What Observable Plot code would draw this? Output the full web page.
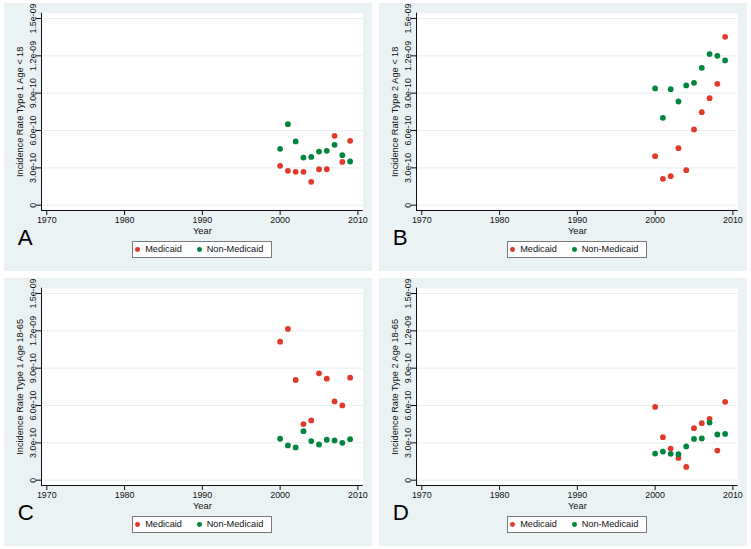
<!DOCTYPE html>
<html>
<head>
<meta charset="utf-8">
<script src="https://cdn.jsdelivr.net/npm/d3@7"></script>
<script src="https://cdn.jsdelivr.net/npm/@observablehq/plot@0.6"></script>
<style>
  html, body { margin: 0; padding: 0; background: #ffffff; }
  #root { position: relative; width: 751px; height: 549px; background: #ffffff; overflow: hidden; }
  .panel { position: absolute; width: 368px; height: 268px; background: #eaf2f3; }
  .panel svg { position: absolute; left: 0; top: 0; }
  .legend { position: absolute; left: 127.7px; top: 237.7px; width: 140px; height: 17px; box-sizing: border-box;
            background: #fff; border: 1px solid #7a7a7a; font-family: "Liberation Sans", Arial, Helvetica, sans-serif;
            font-size: 9.2px; color: #111; }
  .legend .dot { position: absolute; top: 5.4px; width: 4.8px; height: 4.8px; border-radius: 50%; }
  .legend .lbl { position: absolute; top: 2.5px; line-height: 10px; white-space: nowrap; }
</style>
</head>
<body>
<div id="root"></div>
<script>
const years = [2000, 2001, 2002, 2003, 2004, 2005, 2006, 2007, 2008, 2009];
const medicaidA    = [3.16e-10, 2.76e-10, 2.68e-10, 2.68e-10, 1.88e-10, 2.89e-10, 2.89e-10, 5.57e-10, 3.48e-10, 5.17e-10];
const nonMedicaidA = [4.53e-10, 6.51e-10, 5.12e-10, 3.83e-10, 3.88e-10, 4.31e-10, 4.37e-10, 4.85e-10, 4.02e-10, 3.51e-10];
const medicaidB    = [3.94e-10, 2.12e-10, 2.33e-10, 4.58e-10, 2.81e-10, 6.08e-10, 7.47e-10, 8.60e-10, 9.75e-10, 13.53e-10];
const nonMedicaidB = [9.38e-10, 7.02e-10, 9.32e-10, 8.33e-10, 9.62e-10, 9.83e-10, 11.04e-10, 12.14e-10, 12.00e-10, 11.63e-10];
const medicaidC    = [11.13e-10, 12.15e-10, 8.05e-10, 4.51e-10, 4.80e-10, 8.59e-10, 8.16e-10, 6.33e-10, 6.01e-10, 8.24e-10];
const nonMedicaidC = [3.33e-10, 2.79e-10, 2.63e-10, 3.94e-10, 3.14e-10, 2.87e-10, 3.25e-10, 3.19e-10, 3.00e-10, 3.30e-10];
const medicaidD    = [5.89e-10, 3.46e-10, 2.54e-10, 1.79e-10, 1.07e-10, 4.18e-10, 4.58e-10, 4.93e-10, 2.38e-10, 6.30e-10];
const nonMedicaidD = [2.14e-10, 2.30e-10, 2.12e-10, 2.09e-10, 2.71e-10, 3.32e-10, 3.35e-10, 4.63e-10, 3.67e-10, 3.72e-10];

const panelLetters = ["A", "B", "C", "D"];
const yTitles = ["Incidence Rate Type 1 Age < 18", "Incidence Rate Type 2 Age < 18",
                 "Incidence Rate Type 1 Age 18-65", "Incidence Rate Type 2 Age 18-65"];
const xTicks = [1970, 1980, 1990, 2000, 2010];
const yTicks = [0, 3e-10, 6e-10, 9e-10, 1.2e-9, 1.5e-9];
const yTickLabels = ["0", "3.0e-10", "6.0e-10", "9.0e-10", "1.2e-09", "1.5e-09"];
const xTitle = "Year";
const seriesNames = ["Medicaid", "Non-Medicaid"];
const seriesColors = ["#e2392d", "#00853f"];

const panelSeries = [
  [medicaidA, nonMedicaidA],
  [medicaidB, nonMedicaidB],
  [medicaidC, nonMedicaidC],
  [medicaidD, nonMedicaidD]
];
const panelPos = [[4, 3], [379, 3], [4, 278], [379, 278]];

const root = document.getElementById("root");
const font = "'Liberation Sans', Arial, Helvetica, sans-serif";
const ink = "#111111";

panelSeries.forEach((series, p) => {
  const div = document.createElement("div");
  div.className = "panel";
  div.style.left = panelPos[p][0] + "px";
  div.style.top = panelPos[p][1] + "px";
  root.appendChild(div);

  const rows = (k) => years.map((yr, i) => ({year: yr, value: series[k][i]}));
  const labelOf = (d) => yTickLabels[yTicks.indexOf(d)];

  const chart = Plot.plot({
    width: 368,
    height: 268,
    marginLeft: 37,
    marginRight: 9.3,
    marginTop: 9.7,
    marginBottom: 61,
    style: {background: "transparent", fontFamily: font, fontSize: "8.9px", color: ink, overflow: "visible"},
    x: {domain: [1970, 2010], inset: 5.3},
    y: {domain: [0, 1.5e-9], inset: 5.3},
    marks: [
      Plot.frame({fill: "#ffffff", stroke: null}),
      Plot.gridY(yTicks, {stroke: "#e6eef0", strokeOpacity: 1, strokeWidth: 1}),
      Plot.ruleY([0], {dy: 5.3, stroke: ink, strokeWidth: 1}),
      Plot.ruleX([1970], {dx: -5.3, stroke: ink, strokeWidth: 1}),
      Plot.axisX({ticks: xTicks, tickSize: 5, tickPadding: 1.5, tickFormat: (d) => String(d), label: null, stroke: ink, fill: ink}),
      Plot.axisY({ticks: yTicks, tickSize: 5, tickPadding: 1, tickRotate: -90, tickFormat: labelOf, label: null, stroke: ink, fill: ink}),
      Plot.text([xTitle], {frameAnchor: "bottom", dy: 20.5, fontSize: 9.3, fill: ink, lineAnchor: "middle"}),
      Plot.text([yTitles[p]], {frameAnchor: "left", dx: -21.7, rotate: -90, fontSize: 9.2, fill: ink, lineAnchor: "middle", textAnchor: "middle"}),
      Plot.text([panelLetters[p]], {frameAnchor: "bottom-left", dx: -23.7, dy: 34.3, fontSize: 22.3, fill: "#000", textAnchor: "start", lineAnchor: "bottom"}),
      Plot.dot(rows(0), {x: "year", y: "value", r: 2.9, fill: seriesColors[0], stroke: null}),
      Plot.dot(rows(1), {x: "year", y: "value", r: 2.9, fill: seriesColors[1], stroke: null})
    ]
  });
  div.appendChild(chart);

  const legend = document.createElement("div");
  legend.className = "legend";
  const items = [[4, 13.5], [65.5, 75]];
  seriesNames.forEach((name, k) => {
    const dot = document.createElement("span");
    dot.className = "dot";
    dot.style.left = (items[k][0] - 1.4) + "px";
    dot.style.background = seriesColors[k];
    legend.appendChild(dot);
    const lbl = document.createElement("span");
    lbl.className = "lbl";
    lbl.style.left = (items[k][1] - 1) + "px";
    lbl.textContent = name;
    legend.appendChild(lbl);
  });
  div.appendChild(legend);
});
</script>
</body>
</html>
